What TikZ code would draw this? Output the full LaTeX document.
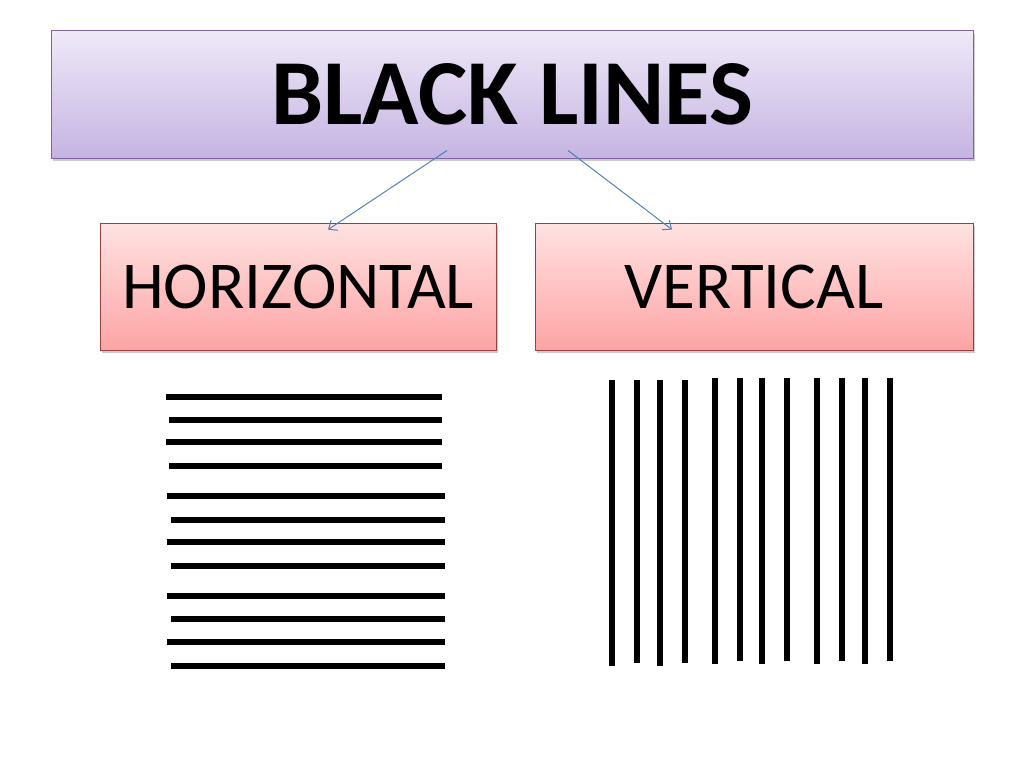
\documentclass[tikz,border=0pt]{standalone}
\usepackage{fontspec}
\setmainfont{Carlito}
\usepackage{tikz}
\usetikzlibrary{arrows.meta,calc,shadows}

\definecolor{lilactop}{RGB}{239,233,248}
\definecolor{lilacbot}{RGB}{197,180,226}
\definecolor{lilacedge}{RGB}{128,100,162}
\definecolor{pinktop}{RGB}{255,226,226}
\definecolor{pinkbot}{RGB}{253,164,164}
\definecolor{pinkedge}{RGB}{150,65,65}
\definecolor{linkblue}{RGB}{79,129,189}

\tikzset{
 boxshadow/.style={drop shadow={shadow xshift=1.5pt,shadow yshift=-3pt,opacity=0.35,fill=black!60}},
 titlebox/.style={draw=lilacedge,line width=1pt,top color=lilactop,bottom color=lilacbot,
  minimum width=922pt,minimum height=127pt,inner sep=0pt,boxshadow},
 kindbox/.style={draw=pinkedge,line width=0.8pt,top color=pinktop,bottom color=pinkbot,
  minimum height=127pt,inner sep=0pt,boxshadow},
 link/.style={linkblue,line width=1pt,-{Straight Barb[length=7pt,width=12pt]}},
 bar/.style={line width=5.5pt}
}

\begin{document}
\begin{tikzpicture}[x=1pt,y=-1pt]
 \useasboundingbox (0,0) rectangle (1024,768);
 \node[titlebox] (title) at (512,94.5) {\raisebox{-3pt}{\fontsize{93}{93}\selectfont\bfseries BLACK LINES}};
 \node[kindbox,minimum width=396pt] (horiz) at (298,286.5) {\raisebox{-4pt}{\fontsize{67}{67}\selectfont HORIZONTAL}};
 \node[kindbox,minimum width=438pt] (vert) at (754,286.5) {\raisebox{-4pt}{\fontsize{67}{67}\selectfont VERTICAL}};
 % arrows from the heading to the two kinds
 \draw[link] ([shift={(-65,-8)}]title.south) -- ([shift={(30,7)}]horiz.north);
 \draw[link] ([shift={(56,-8)}]title.south) -- ([shift={(-82,7)}]vert.north);
 % horizontal lines
 \foreach \y/\xa/\xb in {397/166/442,420/169/442,442/166/442,466/169/442,496/167/445,520/171/445,
   542/167/445,566/171/445,596/167/445,619/171/445,642/167/445,666/171/445}
  \draw[bar] (\xa,\y) -- (\xb,\y);
 % vertical lines
 \foreach \x/\ya/\yb in {612/380/666,637/380/663,660/380/666,685/380/663,715/378/664,740/378/661,
   762/378/664,787/378/661,817/378/664,842/378/661,865/378/664,890/378/661}
  \draw[line width=6pt] (\x,\ya) -- (\x,\yb);
\end{tikzpicture}
\end{document}
